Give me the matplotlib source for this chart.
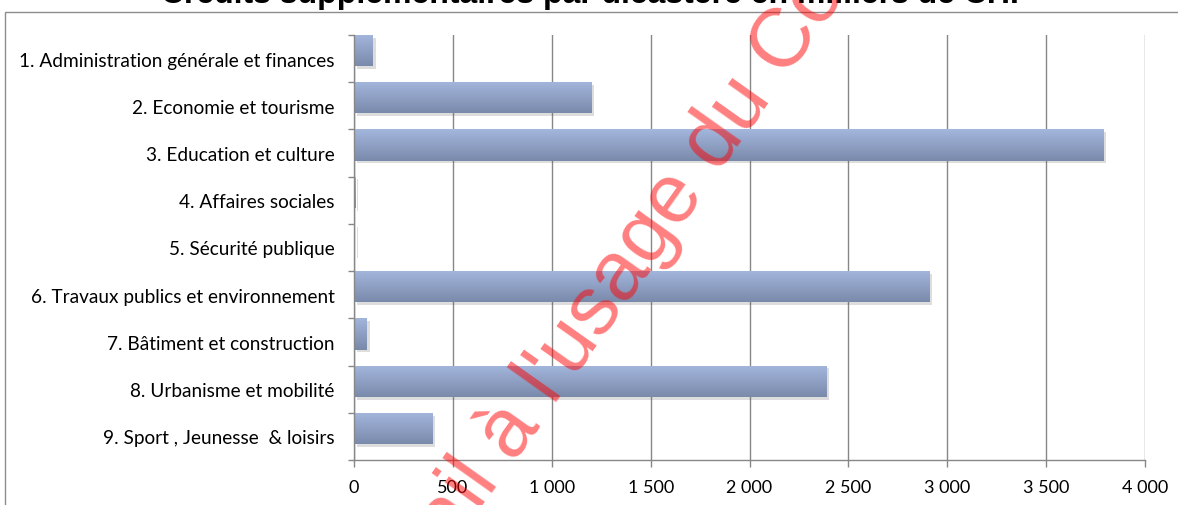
import numpy as np
import matplotlib
matplotlib.use("Agg")
import matplotlib.pyplot as plt
import matplotlib.patheffects as pe
from matplotlib.patches import Rectangle

# ── Données (milliers de CHF) ─────────────────────────────────
categories = [
    "1. Administration générale et finances",
    "2. Economie et tourisme",
    "3. Education et culture",
    "4. Affaires sociales",
    "5. Sécurité publique",
    "6. Travaux publics et environnement",
    "7. Bâtiment et construction",
    "8. Urbanisme et mobilité",
    "9. Sport , Jeunesse  & loisirs",
]
values = [95, 1200, 3790, 8, 5, 2910, 65, 2390, 395]
xticks = [0, 500, 1000, 1500, 2000, 2500, 3000, 3500, 4000]
xtick_labels = ["0", "500", "1 000", "1 500", "2 000", "2 500", "3 000", "3 500", "4 000"]
title = "Crédits supplémentaires par dicastère en milliers de CHF"
watermark = "Document de travail à l'usage du Conseil"
# ──────────────────────────────────────────────────────────────

W, H, DPI = 1178, 506, 100
GRID = "#878787"
TOP_C = np.array([0xA3, 0xB6, 0xDC]) / 255
BOT_C = np.array([0x7A, 0x8A, 0xAB]) / 255
LABEL_FONT = ["Lato", "DejaVu Sans"]

fig = plt.figure(figsize=(W / DPI, H / DPI), dpi=DPI)
fig.patch.set_facecolor("white")

# cadre du graphique
fig.add_artist(Rectangle((5 / W, -0.1), 2.0, (H - 13) / H + 0.1,
                         transform=fig.transFigure, fill=False,
                         edgecolor="#8c8c8c", linewidth=1.0))

fig.text(0.505, 0.994, title, ha="center", va="baseline",
         fontsize=23, fontweight="bold", family="Liberation Sans")

ax = fig.add_axes([354 / W, 1 - 461 / H, (1145 - 354) / W, (461 - 36) / H])

n = len(categories)
bar_h = 0.66
pos = np.arange(n)
bars = ax.barh(pos, values, height=bar_h, align="edge", color=BOT_C,
               linewidth=0, zorder=3,
               path_effects=[pe.SimplePatchShadow(offset=(2, -2), alpha=0.2,
                                                  shadow_rgbFace="#555555"),
                             pe.Normal()])

grad = np.linspace(0, 1, 64)[:, None, None]
grad_img = TOP_C[None, None, :] * (1 - grad) + BOT_C[None, None, :] * grad
for b, p, v in zip(bars, pos, values):
    im = ax.imshow(grad_img, extent=[0, v, p + bar_h, p], aspect="auto",
                   zorder=4, interpolation="bilinear")
    im.set_clip_path(b)

ax.set_xlim(0, 4000)
ax.set_ylim(n, 0)
ax.set_aspect("auto")

ax.set_xticks(xticks)
ax.set_xticklabels(xtick_labels, family=LABEL_FONT, fontsize=13)
ax.set_yticks(np.arange(n + 1))
ax.set_yticklabels([])
ax.set_yticks(pos + 0.5, minor=True)
ax.set_yticklabels(categories, minor=True, family=LABEL_FONT, fontsize=13.7)

ax.tick_params(axis="x", length=5, width=1, color=GRID, pad=9)
ax.tick_params(axis="y", which="major", length=4, width=1, color=GRID)
ax.tick_params(axis="y", which="minor", length=0, pad=14)

ax.grid(axis="x", color=GRID, linewidth=1, zorder=0)
ax.set_axisbelow(True)
for s in ["top", "right"]:
    ax.spines[s].set_visible(False)
for s in ["left", "bottom"]:
    ax.spines[s].set_color(GRID)
    ax.spines[s].set_linewidth(1)
    ax.spines[s].set_zorder(5)

# filigrane
fig.text(72 / W, 1 - 1087 / H, watermark, rotation=54.7, rotation_mode="anchor",
         ha="left", va="baseline", fontsize=60, color="red", alpha=0.5,
         family="Liberation Sans", zorder=10)

fig.savefig("out.png", dpi=DPI)
